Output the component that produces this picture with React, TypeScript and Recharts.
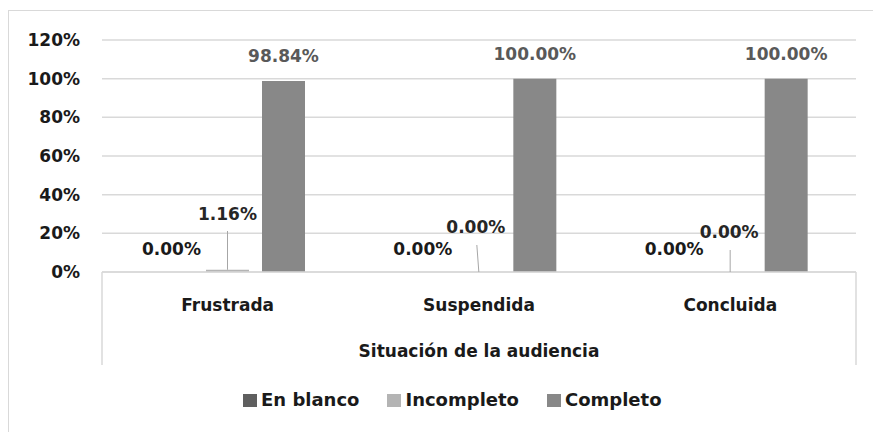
import React from "react";
import { BarChart, Bar, XAxis, YAxis, CartesianGrid, Legend, LabelList, Label } from "recharts";

const categories = ["Frustrada", "Suspendida", "Concluida"];
const seriesNames = ["En blanco", "Incompleto", "Completo"];
const enBlanco = [0, 0, 0];
const incompleto = [0.0116, 0, 0];
const completo = [0.9884, 1, 1];
const yTicks = [0, 0.2, 0.4, 0.6, 0.8, 1, 1.2];
const axisTitle = "Situación de la audiencia";

const data = categories.map((name, i) => ({
  name,
  enBlanco: enBlanco[i],
  incompleto: incompleto[i],
  completo: completo[i],
}));

const W = 873;
const H = 432;
const LEFT = 102;
const RIGHT = 17;
const BAND = (W - LEFT - RIGHT) / categories.length;
const FONT = "'DejaVu Sans', sans-serif";
const TEXT = "#1a1a1a";
const GRID = "#d9d9d9";
const COLORS = ["#5f5f5f", "#b4b4b4", "#888888"];

// hand placed labels for the "Incompleto" series (Excel leader lines)
const incPlace = [
  { dx: 0, lift: 52, lineTop: 41, lineDx: 0 },
  { dx: -3, lift: 39, lineTop: 27, lineDx: -2 },
  { dx: -1, lift: 34, lineTop: 22, lineDx: 0 },
];

const pct = (v: number, d = 2) => `${(v * 100).toFixed(d)}%`;

const textStyle = { fontFamily: FONT, fontWeight: "bold" as const, fontSize: 17 };

const box = (p: any) => {
  const vb = p.viewBox && p.viewBox.x !== undefined ? p.viewBox : p;
  return { x: Number(vb.x), y: Number(vb.y), w: Number(vb.width), h: Number(vb.height) };
};

const BlankLabel = (p: any) => {
  const { x, y, w, h } = box(p);
  const cx = x + w / 2;
  const base = y + h;
  return (
    <text x={cx} y={base - 17} textAnchor="middle" fill={TEXT} {...textStyle}>
      {pct(Number(p.value))}
    </text>
  );
};

const IncLabel = (p: any) => {
  const { x, y, w, h } = box(p);
  const cx = x + w / 2;
  const base = y + h;
  const i = Math.max(0, Math.min(categories.length - 1, Math.floor((cx - LEFT) / BAND)));
  const s = incPlace[i];
  return (
    <g>
      <line x1={cx + s.lineDx} y1={base - s.lineTop} x2={cx} y2={y} stroke="#a6a6a6" strokeWidth={1} />
      <text x={cx + s.dx} y={base - s.lift} textAnchor="middle" fill="#262626" {...textStyle}>
        {pct(Number(p.value))}
      </text>
    </g>
  );
};

const CatTick = (p: any) => {
  const { x, y, payload, index } = p;
  return (
    <g>
      <text x={x} y={y + 39} textAnchor="middle" fill={TEXT} {...textStyle}>
        {payload.value}
      </text>
      {index === 0 && (
        <line x1={x - BAND / 2} x2={x - BAND / 2} y1={y} y2={y + 93} stroke={GRID} strokeWidth={1.5} />
      )}
      {index === categories.length - 1 && (
        <line x1={x + BAND / 2} x2={x + BAND / 2} y1={y} y2={y + 93} stroke={GRID} strokeWidth={1.5} />
      )}
    </g>
  );
};

const LegendContent = (p: any) => {
  const items = [...(p.payload || [])].sort(
    (a: any, b: any) => seriesNames.indexOf(a.value) - seriesNames.indexOf(b.value)
  );
  return (
    <div
      style={{ display: "flex", alignItems: "center", ...textStyle, fontSize: 18, color: TEXT, lineHeight: "20px" }}
    >
      {items.map((e: any, i: number) => (
        <div key={e.value} style={{ display: "flex", alignItems: "center", marginRight: i < 2 ? 28 : 0 }}>
          <span style={{ display: "inline-block", width: 14, height: 13, background: e.color, marginRight: 4 }} />
          <span>{e.value}</span>
        </div>
      ))}
    </div>
  );
};

export default function App() {
  return (
    <div style={{ position: "fixed", left: 0, top: 0, width: W, height: H, overflow: "hidden", background: "#fff" }}>
      <div
        style={{
          position: "absolute",
          left: 8,
          top: 10,
          width: 1000,
          height: 1000,
          border: `1.5px solid ${GRID}`,
        }}
      />
      <div style={{ position: "absolute", left: 0, top: 0 }}>
        <BarChart
          width={W}
          height={H}
          data={data}
          margin={{ top: 40, right: RIGHT, left: 0, bottom: 47 }}
          barGap={13}
        >
          <CartesianGrid vertical={false} stroke={GRID} strokeWidth={1.5} />
          <YAxis
            width={LEFT}
            domain={[0, 1.2]}
            ticks={yTicks}
            tickFormatter={(v: number) => pct(v, 0)}
            axisLine={false}
            tickLine={false}
            tickSize={0}
            tickMargin={22}
            tick={{ fill: TEXT, ...textStyle }}
          />
          <XAxis
            dataKey="name"
            height={93}
            axisLine={{ stroke: GRID, strokeWidth: 1.5 }}
            tickLine={false}
            tickSize={0}
            tickMargin={0}
            tick={<CatTick />}
          >
            <Label value={axisTitle} position="insideBottom" offset={8} fill={TEXT} {...textStyle} />
          </XAxis>
          <Legend
            verticalAlign="bottom"
            content={<LegendContent />}
            wrapperStyle={{ left: 243, top: 390, width: "auto" }}
          />
          <Bar
            dataKey="enBlanco"
            name={seriesNames[0]}
            fill={COLORS[0]}
            barSize={43}
            minPointSize={0.01}
            isAnimationActive={false}
          >
            <LabelList dataKey="enBlanco" content={<BlankLabel />} />
          </Bar>
          <Bar
            dataKey="incompleto"
            name={seriesNames[1]}
            fill={COLORS[1]}
            barSize={43}
            minPointSize={0.01}
            isAnimationActive={false}
          >
            <LabelList dataKey="incompleto" content={<IncLabel />} />
          </Bar>
          <Bar dataKey="completo" name={seriesNames[2]} fill={COLORS[2]} barSize={43} isAnimationActive={false}>
            <LabelList
              dataKey="completo"
              position="top"
              offset={19}
              formatter={(v: any) => pct(Number(v))}
              fill="#595959"
              {...textStyle}
            />
          </Bar>
        </BarChart>
      </div>
    </div>
  );
}
